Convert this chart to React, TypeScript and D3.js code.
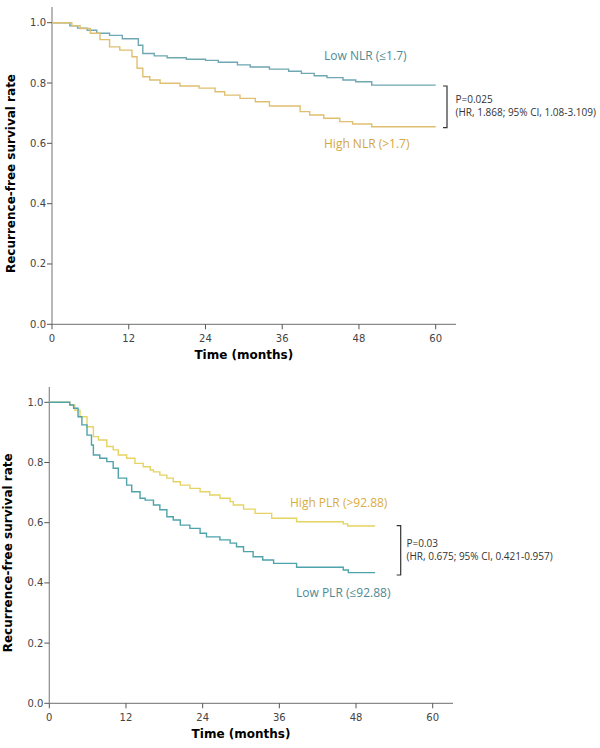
import React from 'react';
import * as d3 from 'd3';

// Time points (months) and survival values
const nlrLowT = [0, 2.8, 4, 5.5, 7, 9, 11, 13.5, 14.2, 16, 18, 21, 24, 26, 29, 31, 34, 37, 39, 41, 43, 45.5, 47.5, 50, 60];
const nlrLowS = [1.0, 0.99, 0.982, 0.975, 0.965, 0.958, 0.947, 0.925, 0.898, 0.89, 0.884, 0.879, 0.875, 0.869, 0.86, 0.853, 0.846, 0.839, 0.832, 0.824, 0.818, 0.81, 0.804, 0.793, 0.793];
const nlrHighT = [0, 3.1, 4.4, 6, 7.5, 9, 10.6, 12.5, 13.3, 14.2, 15.3, 16.9, 20, 23, 25.5, 27, 29.4, 31.8, 34, 38.8, 40.3, 42.5, 45, 47, 50, 60];
const nlrHighS = [1.0, 0.99, 0.981, 0.965, 0.944, 0.92, 0.909, 0.887, 0.849, 0.821, 0.81, 0.799, 0.79, 0.783, 0.771, 0.76, 0.749, 0.738, 0.724, 0.705, 0.694, 0.683, 0.672, 0.664, 0.655, 0.655];

const plrHighT = [0, 3.2, 4.0, 4.8, 5.9, 6.9, 7.7, 9.0, 10.0, 10.8, 12.1, 13.4, 14.7, 15.8, 16.3, 17.3, 18.4, 19.4, 20.5, 22.0, 23.6, 25.1, 26.7, 28.3, 28.8, 30.4, 32.2, 34.8, 38.7, 46, 46.7, 51];
const plrHighS = [1.0, 0.991, 0.974, 0.952, 0.919, 0.886, 0.875, 0.853, 0.842, 0.825, 0.814, 0.797, 0.786, 0.775, 0.769, 0.758, 0.748, 0.736, 0.725, 0.714, 0.703, 0.692, 0.681, 0.67, 0.659, 0.645, 0.631, 0.615, 0.603, 0.596, 0.589, 0.589];
const plrLowT = [0, 3.2, 3.8, 4.5, 5.1, 5.9, 6.6, 6.9, 7.9, 9.0, 10.0, 10.8, 12.1, 12.9, 14.2, 15.0, 16.3, 17.3, 18.4, 19.4, 20.5, 22.0, 23.6, 24.6, 26.7, 28.3, 29.3, 30.4, 31.9, 33.4, 35.1, 38.7, 46, 46.8, 51];
const plrLowS = [1.0, 0.991, 0.98, 0.952, 0.925, 0.891, 0.858, 0.825, 0.814, 0.803, 0.781, 0.748, 0.725, 0.703, 0.681, 0.675, 0.659, 0.643, 0.62, 0.609, 0.592, 0.581, 0.565, 0.553, 0.543, 0.532, 0.52, 0.504, 0.487, 0.476, 0.465, 0.452, 0.443, 0.434, 0.434];

const xTicks = [0, 12, 24, 36, 48, 60];
const yTicks = [0, 0.2, 0.4, 0.6, 0.8, 1.0];

const panels = [
  {
    x0: 52, x60: 435.7, y1: 22.7, y0: 324.3, axisTop: 7, axisRight: 456,
    series: [
      { t: nlrLowT, s: nlrLowS, color: '#6fa7b2' },
      { t: nlrHighT, s: nlrHighS, color: '#e0c070' },
    ],
    labels: [
      { text: 'Low NLR (≤1.7)', x: 324, y: 60, color: '#4f8a94' },
      { text: 'High NLR (>1.7)', x: 324, y: 148, color: '#d3a63e' },
    ],
    bracket: { x: 443, yTop: 86, yBot: 127.7 },
    stats: ['P=0.025', '(HR, 1.868; 95% CI, 1.08-3.109)'],
    statX: 455.5, statY: 103,
  },
  {
    x0: 49.3, x60: 432.7, y1: 402.3, y0: 703.3, axisTop: 387, axisRight: 453,
    series: [
      { t: plrHighT, s: plrHighS, color: '#e6d462' },
      { t: plrLowT, s: plrLowS, color: '#4fa3aa' },
    ],
    labels: [
      { text: 'High PLR (>92.88)', x: 290, y: 507, color: '#d9ad3c' },
      { text: 'Low PLR (≤92.88)', x: 296, y: 597, color: '#4f8a94' },
    ],
    bracket: { x: 396.7, yTop: 525.7, yBot: 575 },
    stats: ['P=0.03', '(HR, 0.675; 95% CI, 0.421-0.957)'],
    statX: 406.5, statY: 547,
  },
];

const Panel = ({ p }: { p: any }) => {
  const x = d3.scaleLinear().domain([0, 60]).range([p.x0, p.x60]);
  const y = d3.scaleLinear().domain([0, 1]).range([p.y0, p.y1]);
  const line = d3.line<[number, number]>()
    .x(d => x(d[0]))
    .y(d => y(d[1]))
    .curve(d3.curveStepAfter);
  const axisColor = '#8a8a8a';
  const tickFont = { fontFamily: 'Verdana, "DejaVu Sans", sans-serif', fontSize: 10, fill: '#444' };
  return (
    <g>
      {/* axes */}
      <line x1={p.x0} x2={p.x0} y1={p.axisTop} y2={p.y0} stroke={axisColor} strokeWidth={1.2} />
      <line x1={p.x0} x2={p.axisRight} y1={p.y0} y2={p.y0} stroke={axisColor} strokeWidth={1.2} />
      {yTicks.map(v => (
        <g key={'y' + v}>
          <line x1={p.x0 - 5} x2={p.x0} y1={y(v)} y2={y(v)} stroke="#555" />
          <text x={p.x0 - 6} y={y(v)} dy="0.35em" textAnchor="end" {...tickFont}>{v.toFixed(1)}</text>
        </g>
      ))}
      {xTicks.map(v => (
        <g key={'x' + v}>
          <line x1={x(v)} x2={x(v)} y1={p.y0} y2={p.y0 + 5} stroke="#555" />
          <text x={x(v)} y={p.y0 + 18} textAnchor="middle" {...tickFont}>{v}</text>
        </g>
      ))}
      <text x={(p.x0 + p.x60) / 2} y={p.y0 + 35} textAnchor="middle"
        style={{ fontFamily: 'Verdana, "DejaVu Sans", sans-serif', fontSize: 12, fontWeight: 'bold' }}>Time (months)</text>
      <text transform={`translate(${p.x0 - 37},${(p.y0 + p.y1) / 2}) rotate(-90)`} textAnchor="middle"
        style={{ fontFamily: 'Verdana, "DejaVu Sans", sans-serif', fontSize: 12, fontWeight: 'bold' }}>Recurrence-free survival rate</text>
      {/* curves */}
      {p.series.map((s: any, i: number) => (
        <path key={i} d={line(s.t.map((t: number, j: number) => [t, s.s[j]])) || ''}
          fill="none" stroke={s.color} strokeWidth={1.4} />
      ))}
      {p.labels.map((l: any) => (
        <text key={l.text} x={l.x} y={l.y} fill={l.color}
          style={{ fontFamily: '"Open Sans", "Noto Sans", sans-serif', fontSize: 12 }}>{l.text}</text>
      ))}
      <path d={`M${p.bracket.x},${p.bracket.yTop}H${p.bracket.x + 4}V${p.bracket.yBot}H${p.bracket.x}`}
        fill="none" stroke="#333" strokeWidth={1.2} />
      {p.stats.map((s: string, i: number) => (
        <text key={s} x={p.statX} y={p.statY + i * 13.4} fill="#333"
          style={{ fontFamily: '"Open Sans", "Noto Sans", sans-serif', fontSize: 10 }}>{s}</text>
      ))}
    </g>
  );
};

export default function App() {
  return (
    <svg width={600} height={748} style={{ position: 'absolute', left: 0, top: 0, background: '#fff' }}>
      <rect width={600} height={748} fill="#fff" />
      {panels.map((p, i) => <Panel key={i} p={p} />)}
    </svg>
  );
}
